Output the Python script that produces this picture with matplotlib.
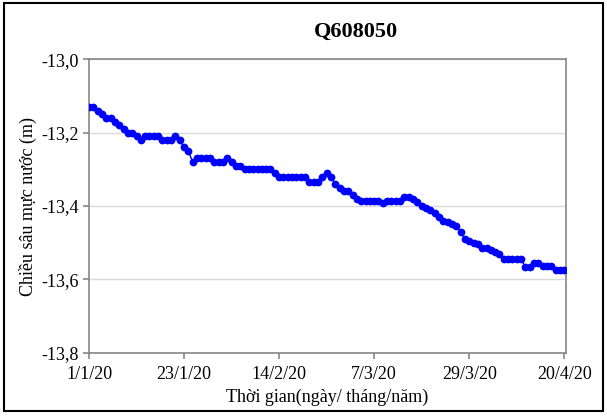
import datetime as dt
import numpy as np
import matplotlib
matplotlib.use('Agg')
import matplotlib.pyplot as plt
import matplotlib.dates as mdates
from matplotlib.patches import Rectangle

title = 'Q608050'
x_label = 'Thời gian(ngày/ tháng/năm)'
y_label = 'Chiều sâu mực nước (m)'

start_date = dt.date(2020, 1, 1)
# daily water depth readings, 1/1/2020 .. 20/4/2020
depth = [
    -13.13, -13.13, -13.14, -13.15, -13.16, -13.16, -13.17, -13.18, -13.19, -13.20,
    -13.20, -13.21, -13.22, -13.21, -13.21, -13.21, -13.21, -13.22, -13.22, -13.22,
    -13.21, -13.22, -13.24, -13.25, -13.28, -13.27, -13.27, -13.27, -13.27, -13.28,
    -13.28, -13.28, -13.27, -13.28, -13.29, -13.29, -13.30, -13.30, -13.30, -13.30,
    -13.30, -13.30, -13.30, -13.31, -13.32, -13.32, -13.32, -13.32, -13.32, -13.32,
    -13.32, -13.335, -13.335, -13.335, -13.32, -13.31, -13.32, -13.34, -13.35, -13.36,
    -13.36, -13.37, -13.38, -13.385, -13.385, -13.385, -13.385, -13.385, -13.393, -13.385,
    -13.385, -13.385, -13.385, -13.375, -13.375, -13.38, -13.39, -13.40, -13.405, -13.41,
    -13.42, -13.43, -13.44, -13.445, -13.45, -13.455, -13.47, -13.49, -13.495, -13.50,
    -13.505, -13.515, -13.515, -13.52, -13.525, -13.53, -13.545, -13.545, -13.545, -13.545,
    -13.545, -13.567, -13.567, -13.555, -13.555, -13.565, -13.565, -13.565, -13.575, -13.575,
    -13.575,
]
dates = [start_date + dt.timedelta(days=i) for i in range(len(depth))]

plt.rcParams['font.family'] = ['Liberation Serif', 'DejaVu Serif']

fig = plt.figure(figsize=(6.07, 4.19), dpi=100)
ax = fig.add_axes([0.1466, 0.1587, 0.7859, 0.6993])

ax.plot(dates, depth, color='#0000FF', lw=1, marker='o', markersize=5.6,
        markeredgewidth=0, zorder=3)

ax.set_xlim(mdates.date2num(dt.date(2020, 1, 1)), mdates.date2num(dt.date(2020, 4, 20)) + 0.4)
ax.set_ylim(-13.8, -13.0)
ax.set_yticks(np.arange(-13.8, -12.99, 0.2))
ax.yaxis.set_major_formatter(plt.FuncFormatter(lambda v, p: f'{v:.1f}'.replace('.', ',')))

xt = [dt.date(2020, 1, 1) + dt.timedelta(days=22 * k) for k in range(6)]
ax.set_xticks(mdates.date2num(xt))
ax.set_xticklabels([f'{d.day}/{d.month}/{d:%y}' for d in xt])

ax.grid(axis='y', color='#D9D9D9', lw=1)
ax.set_axisbelow(True)
for s in ax.spines.values():
    s.set_color('#868686')
    s.set_linewidth(1.2)
ax.tick_params(axis='both', colors='#868686', labelcolor='black', labelsize=13,
               length=4, width=1.2, direction='out')
ax.tick_params(axis='x', pad=6)

ax.set_title(title, fontsize=16, fontweight='bold', pad=16, x=0.56)
ax.set_xlabel(x_label, fontsize=13, labelpad=4)
ax.set_ylabel(y_label, fontsize=13, labelpad=3)

fig.patches.append(Rectangle((0.006, 0.018), 0.988, 0.975, transform=fig.transFigure,
                             fill=False, edgecolor='black', lw=1.5))

fig.savefig('out.png', dpi=100)
